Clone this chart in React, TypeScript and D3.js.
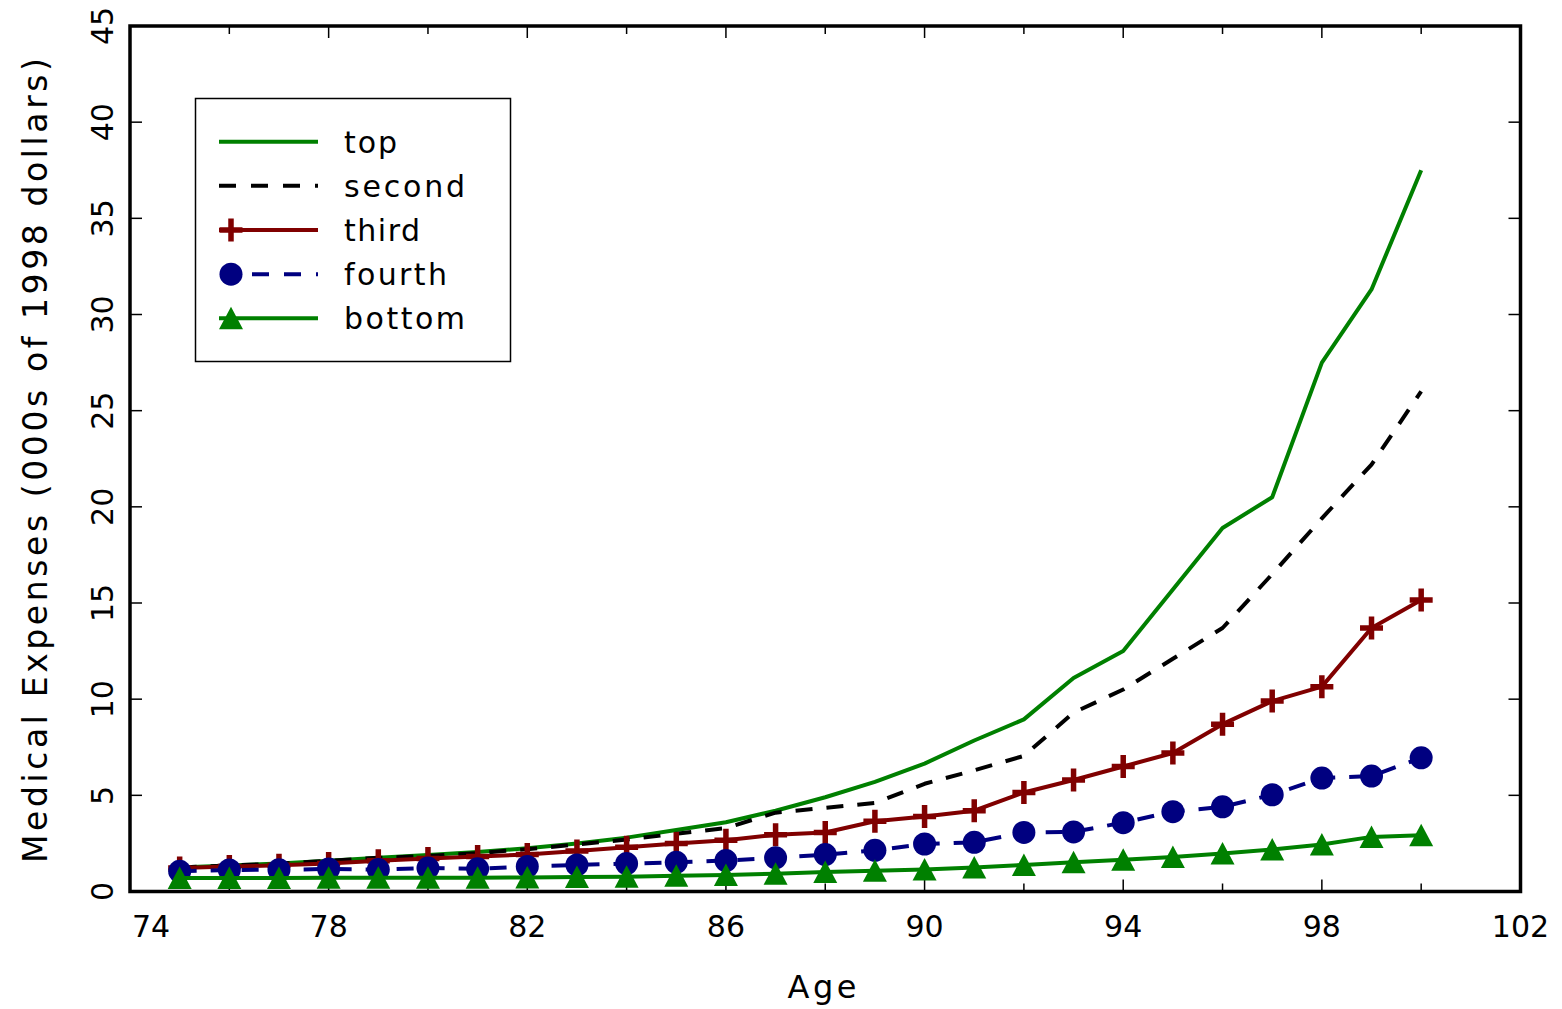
import React from 'react';
import * as d3 from 'd3';

const ages = [75, 76, 77, 78, 79, 80, 81, 82, 83, 84, 85, 86, 87, 88, 89, 90, 91, 92, 93, 94, 95, 96, 97, 98, 99, 100];
const topQ = [1.25, 1.35, 1.45, 1.6, 1.75, 1.9, 2.05, 2.25, 2.5, 2.8, 3.2, 3.6, 4.2, 4.9, 5.7, 6.65, 7.85, 8.95, 11.1, 12.5, 15.7, 18.9, 20.5, 27.5, 31.3, 37.5];
const secondQ = [1.25, 1.35, 1.45, 1.6, 1.75, 1.85, 2.0, 2.2, 2.45, 2.7, 3.0, 3.3, 4.1, 4.35, 4.6, 5.6, 6.3, 7.05, 9.3, 10.5, 12.1, 13.7, 16.5, 19.4, 22.2, 26.0];
const thirdQ = [1.22, 1.3, 1.36, 1.45, 1.6, 1.72, 1.82, 1.92, 2.1, 2.3, 2.5, 2.66, 2.95, 3.07, 3.65, 3.9, 4.2, 5.15, 5.8, 6.5, 7.2, 8.7, 9.9, 10.65, 13.7, 15.15];
const fourthQ = [1.05, 1.12, 1.13, 1.17, 1.14, 1.22, 1.18, 1.3, 1.38, 1.45, 1.52, 1.61, 1.75, 1.92, 2.14, 2.47, 2.56, 3.07, 3.1, 3.58, 4.15, 4.4, 5.03, 5.9, 6.0, 6.95];
const bottomQ = [0.7, 0.7, 0.7, 0.71, 0.71, 0.71, 0.72, 0.73, 0.75, 0.77, 0.82, 0.86, 0.92, 1.02, 1.08, 1.15, 1.25, 1.38, 1.52, 1.65, 1.8, 1.97, 2.18, 2.44, 2.84, 2.92];

const seriesNames = ['top', 'second', 'third', 'fourth', 'bottom'];
const xTicks = [74, 76, 78, 80, 82, 84, 86, 88, 90, 92, 94, 96, 98, 100, 102];
const xLabels = [74, 78, 82, 86, 90, 94, 98, 102];
const yTicks = [0, 5, 10, 15, 20, 25, 30, 35, 40, 45];
const xTitle = 'Age';
const yTitle = 'Medical Expenses (000s of 1998 dollars)';

const W = 1562;
const H = 1009;
const FONT = '"DejaVu Sans", sans-serif';

type Marker = 'plus' | 'circle' | 'triangle' | null;

function drawMarker(kind: Marker, cx: number, cy: number, color: string, key: string) {
  if (kind === 'plus') {
    return (
      <path key={key} d={`M${cx - 11.5},${cy}H${cx + 11.5}M${cx},${cy - 11.5}V${cy + 11.5}`}
        stroke={color} strokeWidth={5.5} fill="none" />
    );
  }
  if (kind === 'circle') {
    return <circle key={key} cx={cx} cy={cy} r={11.5} fill={color} />;
  }
  if (kind === 'triangle') {
    return <path key={key} d={`M${cx},${cy - 11.5}L${cx + 12},${cy + 11}L${cx - 12},${cy + 11}Z`} fill={color} />;
  }
  return null;
}

export default function App() {
  const left = 130, right = 1520.5, top = 26, bottom = 891.5;
  const x = d3.scaleLinear().domain([74, 102]).range([left, right]);
  const y = d3.scaleLinear().domain([0, 45]).range([bottom, top]);

  const series = [
    { name: seriesNames[0], values: topQ, color: '#008000', dash: null as string | null, marker: null as Marker },
    { name: seriesNames[1], values: secondQ, color: '#000000', dash: '17,14', marker: null as Marker },
    { name: seriesNames[2], values: thirdQ, color: '#800000', dash: null, marker: 'plus' as Marker },
    { name: seriesNames[3], values: fourthQ, color: '#000080', dash: '17,14', marker: 'circle' as Marker },
    { name: seriesNames[4], values: bottomQ, color: '#008000', dash: null, marker: 'triangle' as Marker },
  ];

  const lineGen = (vals: number[]) =>
    d3.line<number>().x((_, i) => x(ages[i])).y((d) => y(d))(vals) || '';

  const legendLen: Record<string, number> = { top: 53, second: 121, third: 76, fourth: 103, bottom: 121 };

  return (
    <svg width={W} height={H} style={{ position: 'absolute', left: 0, top: 0, background: '#fff' }}
      fontFamily={FONT}>
      <rect x={0} y={0} width={W} height={H} fill="#fff" />

      {/* ticks */}
      {xTicks.map((t) => {
        const major = (t - 74) % 4 === 0;
        const len = major ? 12 : 8;
        return (
          <g key={'xt' + t}>
            <line x1={x(t)} x2={x(t)} y1={bottom} y2={bottom - len} stroke="#000" strokeWidth={1.5} />
            <line x1={x(t)} x2={x(t)} y1={top} y2={top + len} stroke="#000" strokeWidth={1.5} />
          </g>
        );
      })}
      {yTicks.map((t) => (
        <g key={'yt' + t}>
          <line x1={left} x2={left + 12} y1={y(t)} y2={y(t)} stroke="#000" strokeWidth={1.5} />
          <line x1={right} x2={right - 12} y1={y(t)} y2={y(t)} stroke="#000" strokeWidth={1.5} />
        </g>
      ))}

      {/* series */}
      {series.map((s) => (
        <g key={s.name}>
          <path d={lineGen(s.values)} fill="none" stroke={s.color} strokeWidth={4}
            strokeDasharray={s.dash || undefined} strokeLinejoin="round" />
          {s.marker && s.values.map((v, i) => drawMarker(s.marker, x(ages[i]), y(v), s.color, s.name + i))}
        </g>
      ))}

      {/* frame */}
      <rect x={left} y={top} width={right - left} height={bottom - top} fill="none" stroke="#000" strokeWidth={3.5} />

      {/* tick labels */}
      {xLabels.map((t, i) => (
        <text key={'xl' + t} x={i === 0 ? x(t) + 2 : x(t)} y={937} fontSize={30}
          textAnchor={i === 0 ? 'start' : 'middle'} fill="#000">{t}</text>
      ))}
      {yTicks.map((t) => (
        <text key={'yl' + t} transform={`translate(113,${y(t)}) rotate(-90)`} fontSize={30}
          textAnchor="middle" fill="#000">{t}</text>
      ))}

      {/* axis titles */}
      <text x={822} y={998} fontSize={32} textAnchor="middle" textLength={69} lengthAdjust="spacing" fill="#000">{xTitle}</text>
      <text transform="translate(47,460.5) rotate(-90)" fontSize={33} textAnchor="middle" textLength={805}
        lengthAdjust="spacing" fill="#000">{yTitle}</text>

      {/* legend */}
      <rect x={195.5} y={98.5} width={315} height={263} fill="#fff" stroke="#000" strokeWidth={1.5} />
      {series.map((s, i) => {
        const ry = 141.7 + i * 44.15;
        const lx0 = s.marker === 'circle' ? 231 : 219;
        return (
          <g key={'lg' + s.name}>
            {s.marker === 'circle' ? (
              <line x1={252} x2={318} y1={ry} y2={ry} stroke={s.color} strokeWidth={4} strokeDasharray="17,15" />
            ) : (
              <line x1={lx0} x2={318} y1={ry} y2={ry} stroke={s.color} strokeWidth={4}
                strokeDasharray={s.dash ? '17,15' : undefined} />
            )}
            {drawMarker(s.marker, 231, ry, s.color, 'lm' + i)}
            <text x={344} y={ry + 11} fontSize={30} textLength={legendLen[s.name]} lengthAdjust="spacing" fill="#000">{s.name}</text>
          </g>
        );
      })}
    </svg>
  );
}
